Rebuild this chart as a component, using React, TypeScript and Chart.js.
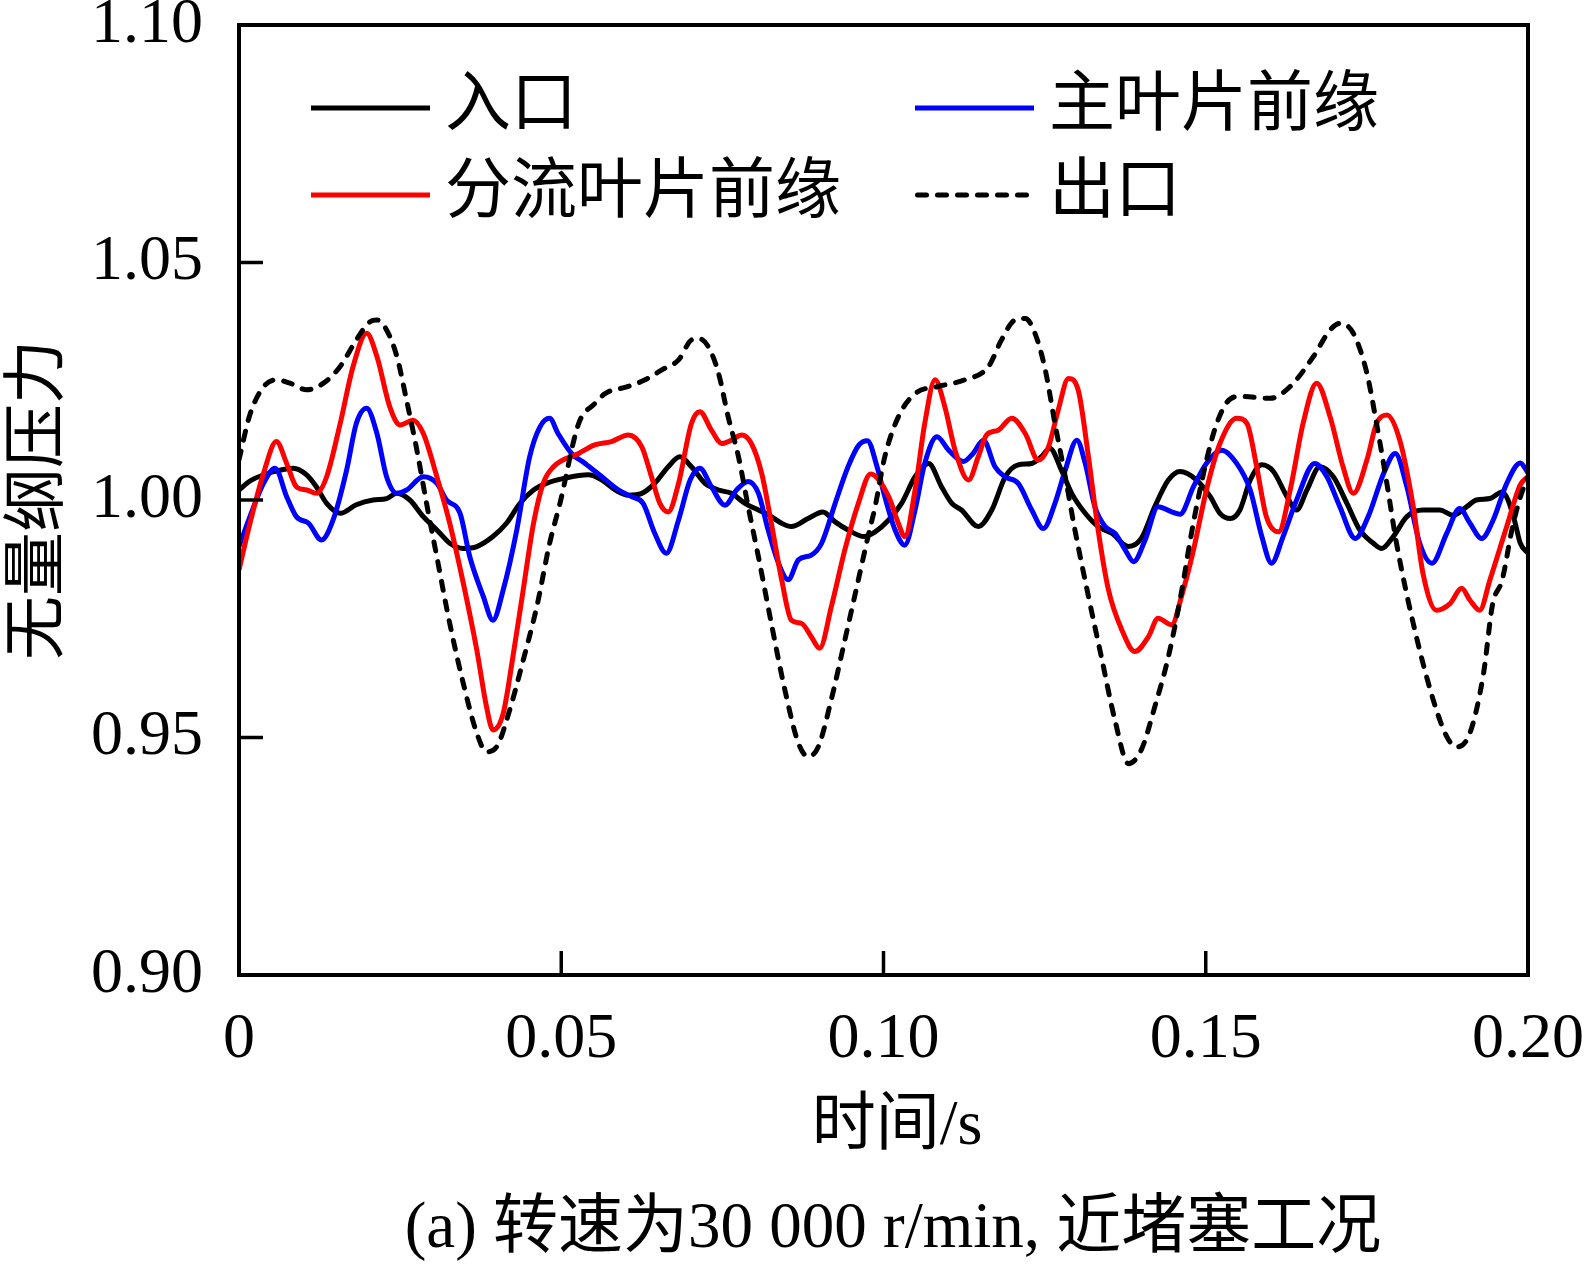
import React, { useEffect, useRef } from 'react';
import { Chart, registerables } from 'chart.js';

Chart.register(...registerables);

// ---------- data (time in s, dimensionless pressure) ----------
const seriesLabels = ['入口', '主叶片前缘', '分流叶片前缘', '出口'];
const seriesColors = ['#000000', '#0000ff', '#ff0000', '#000000'];
const xTicks = [0, 0.05, 0.1, 0.15, 0.2];
const yTicks = [0.9, 0.95, 1.0, 1.05, 1.1];
const xTitle = '时间/s';
const yTitle = '无量纲压力';
const caption = '(a) 转速为30 000 r/min, 近堵塞工况';

const inletData: [number, number][] = [
  [0, 1.0021], [0.0017, 1.004], [0.0038, 1.0053], [0.0064, 1.0063], [0.0084, 1.0067], [0.0105, 1.0053],
  [0.012, 1.0028], [0.0136, 0.9993], [0.0157, 0.9972], [0.0182, 0.999], [0.0208, 1.0], [0.0229, 1.0003],
  [0.0245, 1.0014], [0.0265, 1.0], [0.0286, 0.9965], [0.0307, 0.9937], [0.0327, 0.9909], [0.0348, 0.9898],
  [0.0369, 0.9902], [0.0394, 0.9923], [0.0415, 0.9951], [0.0436, 0.9993], [0.0457, 1.0021], [0.0477, 1.0035],
  [0.0506, 1.0046], [0.0542, 1.0053], [0.0563, 1.0042], [0.0584, 1.0021], [0.0604, 1.001], [0.0625, 1.0014],
  [0.0645, 1.0035], [0.0666, 1.007], [0.0684, 1.0091], [0.0702, 1.007], [0.0723, 1.0035], [0.0744, 1.0021],
  [0.0764, 1.0014], [0.0785, 0.9993], [0.0806, 0.9979], [0.0826, 0.9965], [0.0842, 0.9951], [0.0857, 0.9944],
  [0.0883, 0.9961], [0.0906, 0.9975], [0.0925, 0.9954], [0.0945, 0.9937], [0.097, 0.9923], [0.0987, 0.9933],
  [0.1008, 0.9958], [0.1028, 0.9993], [0.1049, 1.0049], [0.107, 1.0077], [0.109, 1.0028], [0.1106, 0.9993],
  [0.1121, 0.9979], [0.1147, 0.9944], [0.1168, 0.9979], [0.1189, 1.0049], [0.1209, 1.0074], [0.123, 1.0077],
  [0.1245, 1.0091], [0.1258, 1.0109], [0.1276, 1.0063], [0.1292, 1.0014], [0.1313, 0.9972], [0.1333, 0.9944],
  [0.1354, 0.993], [0.138, 0.9902], [0.14, 0.9919], [0.1421, 0.9986], [0.1442, 1.0042], [0.146, 1.006],
  [0.1486, 1.0042], [0.1507, 1.0007], [0.1522, 0.9972], [0.1538, 0.9961], [0.1553, 0.9979], [0.1569, 1.0042],
  [0.1587, 1.0074], [0.1605, 1.006], [0.1626, 1.0007], [0.1641, 0.9979], [0.1657, 1.0021], [0.1677, 1.007],
  [0.1698, 1.0049], [0.1719, 0.9993], [0.1739, 0.9937], [0.176, 0.9909], [0.1773, 0.9898], [0.1791, 0.9923],
  [0.1812, 0.9965], [0.1837, 0.9979], [0.1863, 0.9979], [0.1884, 0.9968], [0.1905, 0.9986], [0.192, 1.0],
  [0.1941, 1.0003], [0.196, 1.0017], [0.1969, 1.0], [0.198, 0.9952], [0.1988, 0.9909], [0.2, 0.9888],
];

const mainBladeData: [number, number][] = [
  [0, 0.9902], [0.0017, 0.9965], [0.0038, 1.0035], [0.0056, 1.0067], [0.0074, 1.0007], [0.0089, 0.9965],
  [0.0108, 0.9951], [0.0128, 0.9916], [0.0146, 0.9958], [0.0167, 1.0063], [0.0182, 1.0161], [0.0198, 1.0193],
  [0.0214, 1.014], [0.0229, 1.0049], [0.0245, 1.0014], [0.026, 1.0021], [0.0286, 1.0049], [0.0307, 1.0035],
  [0.0322, 1.0], [0.0343, 0.9972], [0.0358, 0.9881], [0.0379, 0.9797], [0.0394, 0.9747], [0.041, 0.9811],
  [0.0431, 0.9937], [0.0451, 1.0091], [0.0467, 1.0154], [0.0482, 1.0172], [0.0495, 1.014], [0.0516, 1.0098],
  [0.0537, 1.0077], [0.0563, 1.0049], [0.0589, 1.0021], [0.0609, 1.0007], [0.0627, 0.9993], [0.0645, 0.993],
  [0.0663, 0.9888], [0.0682, 0.9958], [0.07, 1.0042], [0.0715, 1.0067], [0.0733, 1.0028], [0.0754, 0.9989],
  [0.0772, 1.0021], [0.079, 1.0039], [0.0806, 1.0014], [0.0821, 0.9937], [0.0837, 0.9867], [0.0852, 0.9832],
  [0.0868, 0.9874], [0.0888, 0.9884], [0.0904, 0.9909], [0.0925, 0.9993], [0.0945, 1.007], [0.0962, 1.0116],
  [0.0975, 1.0125], [0.099, 1.007], [0.1002, 1.0007], [0.1018, 0.9937], [0.1033, 0.9905], [0.1049, 0.9979],
  [0.1064, 1.0077], [0.1083, 1.0133], [0.1101, 1.0105], [0.1124, 1.0081], [0.1139, 1.0098], [0.1155, 1.0126],
  [0.1173, 1.007], [0.1188, 1.0049], [0.1209, 1.0035], [0.123, 0.9979], [0.1248, 0.994], [0.1266, 0.9993],
  [0.1282, 1.0063], [0.13, 1.0126], [0.1313, 1.0077], [0.1328, 0.9986], [0.1344, 0.9944], [0.1359, 0.993],
  [0.1375, 0.9895], [0.1388, 0.987], [0.1406, 0.9916], [0.1426, 0.9986], [0.1447, 0.9975], [0.146, 0.997],
  [0.1481, 1.0028], [0.1501, 1.0077], [0.1525, 1.0105], [0.1548, 1.0077], [0.1569, 1.0021], [0.1587, 0.9923],
  [0.1602, 0.9867], [0.162, 0.9923], [0.1641, 1.0], [0.1669, 1.0077], [0.1688, 1.0049], [0.1708, 0.9986],
  [0.1732, 0.9919], [0.1752, 0.9965], [0.1776, 1.0056], [0.1794, 1.0098], [0.1812, 1.0028], [0.1832, 0.9909],
  [0.1851, 0.9867], [0.1874, 0.993], [0.1894, 0.9982], [0.191, 0.9951], [0.1928, 0.9919], [0.1946, 0.9958],
  [0.1967, 1.0035], [0.1988, 1.0078], [0.2, 1.0057],
];

const splitterData: [number, number][] = [
  [0, 0.9853], [0.0017, 0.9951], [0.0038, 1.0056], [0.0058, 1.0123], [0.0074, 1.0077], [0.0089, 1.0028],
  [0.0105, 1.0021], [0.012, 1.0014], [0.0136, 1.0049], [0.0157, 1.0161], [0.0177, 1.0281], [0.0198, 1.0351],
  [0.0214, 1.0302], [0.0234, 1.0196], [0.025, 1.0158], [0.027, 1.0168], [0.0286, 1.014], [0.0307, 1.0049],
  [0.0327, 0.9951], [0.0348, 0.9825], [0.0369, 0.9684], [0.0384, 0.9565], [0.0394, 0.9516], [0.041, 0.9551],
  [0.0425, 0.967], [0.0441, 0.9811], [0.0457, 0.9951], [0.0472, 1.0035], [0.0488, 1.007], [0.0527, 1.0098],
  [0.0552, 1.0116], [0.0578, 1.0123], [0.0604, 1.0137], [0.0625, 1.0112], [0.064, 1.0049], [0.0653, 0.9993],
  [0.0666, 0.9975], [0.0682, 1.0035], [0.0702, 1.0161], [0.0715, 1.0186], [0.0733, 1.0147], [0.0749, 1.0119],
  [0.0764, 1.0126], [0.078, 1.0137], [0.0795, 1.0119], [0.0811, 1.0056], [0.0826, 0.9951], [0.0842, 0.9832],
  [0.0857, 0.9747], [0.0873, 0.974], [0.0888, 0.9712], [0.0901, 0.9688], [0.0919, 0.9775], [0.094, 0.9895],
  [0.0961, 0.9993], [0.098, 1.0055], [0.1008, 1.0007], [0.1023, 0.9951], [0.1033, 0.9923], [0.1049, 1.0021],
  [0.1064, 1.0161], [0.108, 1.0253], [0.1095, 1.0197], [0.1111, 1.0105], [0.1132, 1.0042], [0.1147, 1.0091],
  [0.116, 1.0137], [0.1178, 1.0147], [0.1199, 1.0172], [0.122, 1.014], [0.124, 1.0084], [0.1256, 1.0112],
  [0.1271, 1.0189], [0.1287, 1.0256], [0.1302, 1.0232], [0.1318, 1.0091], [0.1333, 0.9937], [0.1349, 0.9811],
  [0.137, 0.9726], [0.139, 0.9681], [0.1411, 0.9712], [0.1426, 0.9751], [0.1447, 0.9737], [0.1463, 0.98],
  [0.1481, 0.9895], [0.1501, 1.0021], [0.1522, 1.0119], [0.1548, 1.0172], [0.1564, 1.0161], [0.1579, 1.007],
  [0.1594, 0.9965], [0.1613, 0.9933], [0.1631, 1.0021], [0.1651, 1.0161], [0.1672, 1.0246], [0.1693, 1.0175],
  [0.1713, 1.007], [0.1729, 1.0014], [0.175, 1.0084], [0.1765, 1.0161], [0.1781, 1.0179], [0.1801, 1.0126],
  [0.1822, 0.9986], [0.1837, 0.9846], [0.1858, 0.9768], [0.1879, 0.9782], [0.1897, 0.9814], [0.191, 0.9789],
  [0.1925, 0.9768], [0.1941, 0.9832], [0.1967, 0.9944], [0.1988, 1.0032], [0.2, 1.0049],
];

const outletData: [number, number][] = [
  [0, 1.0085], [0.0017, 1.018], [0.0038, 1.0238], [0.0058, 1.0253], [0.0079, 1.0246], [0.0105, 1.0232],
  [0.0131, 1.0246], [0.0157, 1.0281], [0.0182, 1.0337], [0.0203, 1.0375], [0.0214, 1.0379], [0.0229, 1.0358],
  [0.0245, 1.0302], [0.026, 1.021], [0.0276, 1.0105], [0.0291, 0.9993], [0.0307, 0.988], [0.0327, 0.974],
  [0.0348, 0.9614], [0.0369, 0.9509], [0.0384, 0.947], [0.04, 0.9481], [0.042, 0.9558], [0.0441, 0.9663],
  [0.0462, 0.9775], [0.0482, 0.9909], [0.0498, 0.9993], [0.0527, 1.0161], [0.0552, 1.0203], [0.0568, 1.0224],
  [0.0604, 1.0239], [0.063, 1.0253], [0.0656, 1.0274], [0.0682, 1.0295], [0.0702, 1.0337], [0.0713, 1.034],
  [0.0728, 1.0323], [0.0744, 1.0267], [0.0759, 1.0175], [0.0775, 1.0091], [0.079, 0.9986], [0.0806, 0.988],
  [0.0826, 0.974], [0.0847, 0.96], [0.0868, 0.9488], [0.0883, 0.946], [0.0899, 0.9481], [0.0919, 0.958],
  [0.094, 0.9705], [0.0961, 0.9832], [0.0976, 0.9923], [0.0987, 0.9986], [0.1002, 1.0091], [0.1023, 1.0175],
  [0.1049, 1.0224], [0.1085, 1.0239], [0.1126, 1.0253], [0.1163, 1.0281], [0.1183, 1.0337], [0.1204, 1.0379],
  [0.122, 1.0382], [0.1235, 1.0351], [0.1251, 1.0274], [0.1266, 1.0161], [0.1282, 1.0049], [0.1297, 0.9937],
  [0.1318, 0.9797], [0.1338, 0.967], [0.1359, 0.9537], [0.138, 0.9445], [0.14, 0.9474], [0.1421, 0.9565],
  [0.1442, 0.967], [0.1463, 0.9811], [0.1476, 0.9916], [0.1491, 1.0021], [0.1512, 1.014], [0.1532, 1.0204],
  [0.1553, 1.0218], [0.16, 1.0214], [0.1631, 1.0239], [0.1667, 1.0302], [0.1693, 1.0358], [0.1708, 1.0372],
  [0.1729, 1.0351], [0.175, 1.0267], [0.1765, 1.0161], [0.1781, 1.0035], [0.1796, 0.9909], [0.1822, 0.974],
  [0.1853, 0.9579], [0.1874, 0.9502], [0.1889, 0.948], [0.191, 0.951], [0.1931, 0.9635], [0.1945, 0.978],
  [0.196, 0.9832], [0.1975, 0.9937], [0.1988, 1.0006], [0.2, 1.0049],
];

const seriesData = [inletData, mainBladeData, splitterData, outletData];

// ---------- styling ----------
const FONT_FAMILY = '"Liberation Serif", "Times New Roman", "Noto Sans CJK SC", serif';
const TEXT_SIZE = 64;
const LINE_W = 5;
const DASH = [9, 11];

const fmtX = (v: number) => (v === 0 ? '0' : v.toFixed(2));
const fmtY = (v: number) => v.toFixed(2);

const decorPlugin = {
  id: 'decor',
  afterDraw(chart: any) {
    const { ctx, chartArea: a, scales } = chart;
    ctx.save();
    ctx.strokeStyle = '#000';
    // inward tick marks
    ctx.lineWidth = 3.5;
    ctx.lineCap = 'butt';
    scales.y.ticks.forEach((t: any) => {
      const y = scales.y.getPixelForValue(t.value);
      if (y <= a.top + 2 || y >= a.bottom - 2) return;
      ctx.beginPath();
      ctx.moveTo(a.left, y);
      ctx.lineTo(a.left + 24, y);
      ctx.stroke();
    });
    scales.x.ticks.forEach((t: any) => {
      const x = scales.x.getPixelForValue(t.value);
      if (x <= a.left + 2 || x >= a.right - 2) return;
      ctx.beginPath();
      ctx.moveTo(x, a.bottom);
      ctx.lineTo(x, a.bottom - 24);
      ctx.stroke();
    });
    // frame
    ctx.lineWidth = 4;
    ctx.strokeRect(a.left, a.top, a.right - a.left, a.bottom - a.top);

    // legend (2 columns x 2 rows)
    const colX = [a.left + 72, a.left + 676];
    const rowY = [a.top + 83, a.top + 170];
    const lineLen = 119;
    ctx.font = `66px ${FONT_FAMILY}`;
    ctx.textBaseline = 'middle';
    ctx.textAlign = 'left';
    chart.data.datasets.forEach((ds: any, i: number) => {
      const x0 = colX[i % 2];
      const y0 = rowY[Math.floor(i / 2)];
      const dashed = ds.borderDash && ds.borderDash.length > 0;
      ctx.beginPath();
      ctx.setLineDash(dashed ? ds.borderDash : []);
      ctx.lineCap = dashed ? 'round' : 'butt';
      ctx.lineWidth = LINE_W;
      ctx.strokeStyle = ds.borderColor;
      ctx.moveTo(x0 + (dashed ? 2.5 : 0), y0);
      ctx.lineTo(x0 + lineLen, y0);
      ctx.stroke();
      ctx.setLineDash([]);
      ctx.fillStyle = '#000';
      ctx.fillText(ds.label, x0 + lineLen + 15, y0);
    });

    // x-axis title and caption
    ctx.fillStyle = '#000';
    ctx.textAlign = 'center';
    ctx.font = `${TEXT_SIZE}px ${FONT_FAMILY}`;
    ctx.fillText(xTitle, 897, 1127);
    ctx.font = `65px ${FONT_FAMILY}`;
    ctx.fillText(caption, 893, 1230);
    ctx.restore();
  },
};

export default function App() {
  const canvasRef = useRef<HTMLCanvasElement | null>(null);

  useEffect(() => {
    if (!canvasRef.current) return;
    const tickFont = { family: FONT_FAMILY, size: TEXT_SIZE };
    const chart = new Chart(canvasRef.current, {
      type: 'line',
      data: {
        datasets: seriesLabels.map((label, i) => ({
          label,
          data: seriesData[i].map(([x, y]) => ({ x, y })),
          borderColor: seriesColors[i],
          backgroundColor: seriesColors[i],
          borderWidth: LINE_W,
          borderDash: i === 3 ? DASH : [],
          borderCapStyle: i === 3 ? ('round' as const) : ('butt' as const),
          borderJoinStyle: 'round' as const,
          pointRadius: 0,
          fill: false,
          cubicInterpolationMode: 'monotone' as const,
          order: 3 - i,
        })),
      },
      options: {
        animation: false,
        responsive: true,
        maintainAspectRatio: false,
        layout: { padding: { left: 0, top: 25, right: 66, bottom: 0 } },
        plugins: {
          legend: { display: false },
          tooltip: { enabled: false },
          title: { display: false },
        },
        scales: {
          x: {
            type: 'linear',
            min: 0,
            max: 0.2,
            afterBuildTicks: (s: any) => {
              s.ticks = xTicks.map((v) => ({ value: v }));
            },
            afterFit: (s: any) => {
              s.height = 290;
              s.paddingLeft = 0;
              s.paddingRight = 0;
            },
            grid: { display: false, drawTicks: false },
            border: { display: false },
            ticks: {
              font: tickFont,
              color: '#000',
              padding: 27,
              maxRotation: 0,
              autoSkip: false,
              callback: (v: any) => fmtX(Number(v)),
            },
            title: { display: false },
          },
          y: {
            type: 'linear',
            min: 0.9,
            max: 1.1,
            afterBuildTicks: (s: any) => {
              s.ticks = yTicks.map((v) => ({ value: v }));
            },
            afterFit: (s: any) => {
              s.width = 239;
              s.paddingTop = 0;
              s.paddingBottom = 0;
            },
            grid: { display: false, drawTicks: false },
            border: { display: false },
            ticks: {
              font: tickFont,
              color: '#000',
              padding: 36,
              autoSkip: false,
              callback: (v: any) => fmtY(Number(v)),
            },
            title: {
              display: true,
              text: yTitle,
              color: '#000',
              font: { family: FONT_FAMILY, size: TEXT_SIZE },
              padding: { top: 2, bottom: 0 },
            },
          },
        },
      },
      plugins: [decorPlugin],
    });
    return () => chart.destroy();
  }, []);

  return (
    <div style={{ position: 'fixed', left: 0, top: 0, width: 1594, height: 1265, background: '#fff' }}>
      <canvas ref={canvasRef} />
    </div>
  );
}
